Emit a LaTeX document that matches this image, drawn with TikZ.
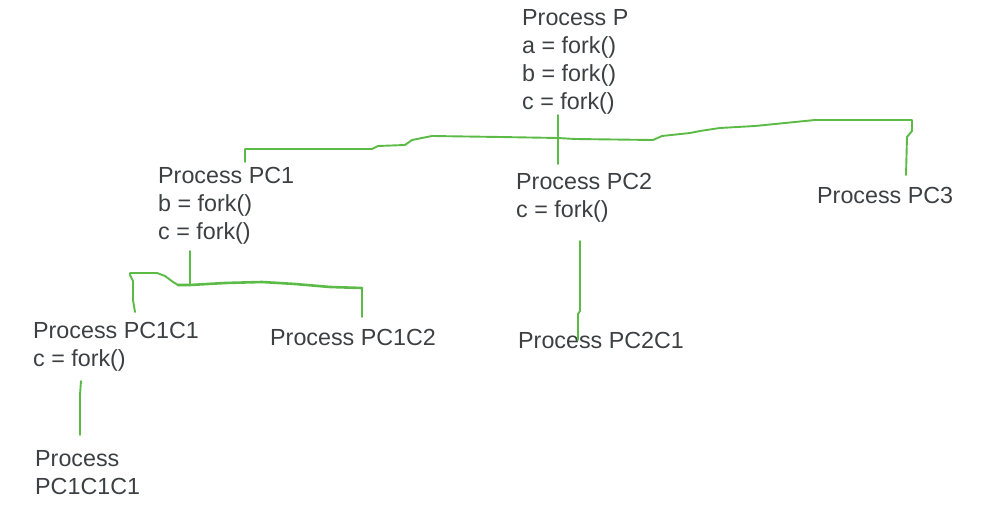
\documentclass[tikz,border=0pt]{standalone}
\usepackage{fontspec}
\setmainfont{Liberation Sans}
\definecolor{txt}{HTML}{3C4043}
\definecolor{pen}{HTML}{5CBB46}
\begin{document}
\begin{tikzpicture}[x=1pt,y=-1pt,
  proc/.style={anchor=north west,inner sep=0pt,align=left,text=txt,
    font=\fontsize{23.3}{28}\selectfont},
  wire/.style={draw=pen,line width=1.9pt,line join=round,line cap=round},
  thick wire/.style={wire,line width=2.6pt}]
\useasboundingbox (0,0) rectangle (983,510);
% texts
\node[proc] (P) at (522,9.5) {Process P\\a = fork()\\b = fork()\\c = fork()};
\node[proc] (PC1) at (158,167.5) {Process PC1\\b = fork()\\c = fork()};
\node[proc] (PC2) at (516,173.5) {Process PC2\\c = fork()};
\node[proc] (PC3) at (817,187.5) {Process PC3};
\node[proc] (PC1C1) at (33,322.5) {Process PC1C1\\c = fork()};
\node[proc] (PC1C2) at (270,329.5) {Process PC1C2};
\node[proc] (PC2C1) at (518,332.5) {Process PC2C1};
\node[proc] (PC1C1C1) at (35,450.5) {Process\\PC1C1C1};
% junction points
\coordinate (jP) at (558,138);
\coordinate (jPC1) at (190,285);
% fork of P
\draw[wire] (558,115) -- (jP) -- (558,164);
\draw[wire] (245,162) -- (245,149) -- (372,149) -- (378,146) -- (405,145)
  -- (412,140) -- (432,136) -- (500,137) -- (jP) -- (575,139) -- (653,140)
  -- (662,136) -- (690,133) -- (700,131) -- (720,128) -- (755,126)
  -- (785,123) -- (815,120) -- (912,120) -- (912,131) -- (907,137) -- (906,175);
% fork of PC1
\draw[wire] (190,251) -- (jPC1);
\draw[wire] (135,312) -- (133,300) -- (133,281) -- (130,275) -- (130,273)
  -- (157,273) -- (165,276) -- (173,282) -- (178,285);
\draw[thick wire] (178,285) -- (jPC1) -- (225,283) -- (262,282) -- (295,284)
  -- (330,287) -- (362,288);
\draw[wire] (362,288) -- (362,317);
% fork of PC1C1
\draw[wire] (81,381) -- (80,395) -- (80,435);
% fork of PC2
\draw[wire] (580,241) -- (580,311) -- (578,314) -- (578,340);
\end{tikzpicture}
\end{document}
